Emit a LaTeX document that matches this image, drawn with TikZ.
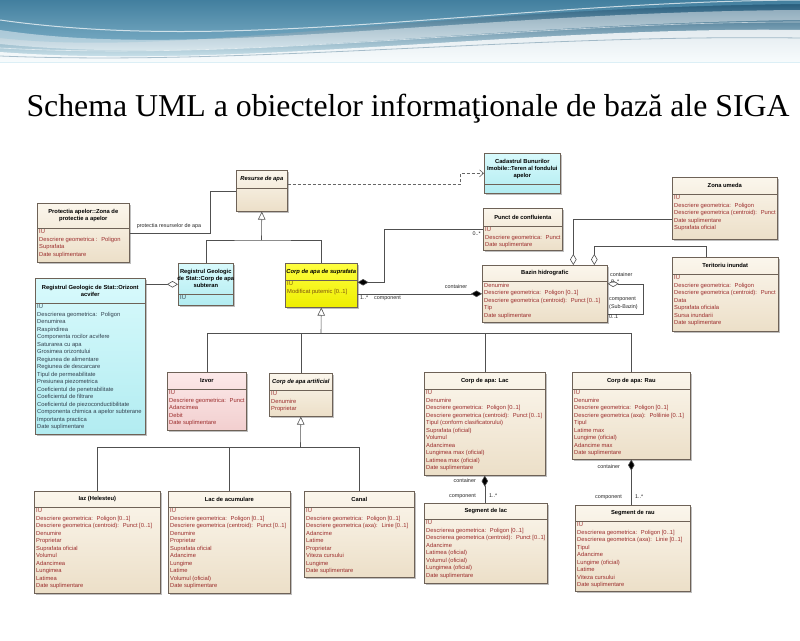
\documentclass[tikz,border=0pt]{standalone}
\usepackage{fontspec}
\setmainfont{Liberation Sans}
\newfontfamily\titlefont{Liberation Serif}
\usetikzlibrary{arrows.meta,shadows,calc}

\definecolor{attr}{HTML}{9B2C2C}
\definecolor{attrdark}{HTML}{33414F}
\definecolor{attryel}{HTML}{7A5010}
\definecolor{boxline}{HTML}{6E6257}
\definecolor{beigeA}{HTML}{FBF6EC}
\definecolor{beigeB}{HTML}{ECDFC8}
\definecolor{cyanA}{HTML}{D8FAFC}
\definecolor{cyanB}{HTML}{B2ECF1}
\definecolor{pinkA}{HTML}{FCE9E9}
\definecolor{pinkB}{HTML}{F2CFCF}
\definecolor{yelA}{HTML}{FFFF40}
\definecolor{yelB}{HTML}{EEEE00}
\definecolor{wire}{HTML}{505050}
\definecolor{hdDark}{HTML}{1D5475}
\definecolor{hdMid}{HTML}{5C9CBB}
\definecolor{hdLight}{HTML}{D9EEF5}

\def\attrcol{attr}
\tikzset{
  classbox/.style={draw=boxline, line width=0.6pt, inner sep=0pt, anchor=north west,
    drop shadow={shadow xshift=1.8pt, shadow yshift=-1.8pt, fill=black!45, opacity=0.55}},
  beigebox/.style={top color=beigeA, bottom color=beigeB, /utils/exec={\gdef\attrcol{attr}}},
  cyanbox/.style={top color=cyanA, bottom color=cyanB, /utils/exec={\gdef\attrcol{attrdark}}},
  pinkbox/.style={top color=pinkA, bottom color=pinkB, /utils/exec={\gdef\attrcol{attr}}},
  yellowbox/.style={top color=yelA, bottom color=yelB, /utils/exec={\gdef\attrcol{attryel}}},
  headtext/.style={font=\bfseries\fontsize{5.8}{7}\selectfont, align=center, inner sep=0pt},
  attrtext/.style={font=\fontsize{5.8}{7.5}\selectfont, align=left, inner sep=0pt,
    anchor=north west, text=\attrcol},
  lbl/.style={font=\fontsize{5.4}{6.4}\selectfont, inner sep=0pt, text=black!85},
  wireline/.style={draw=wire, line width=0.6pt},
  gen/.style={wireline, -{Triangle[open, length=8pt, width=7.5pt, fill=white]}},
  compo/.style={wireline, {Diamond[length=11pt, width=6.5pt, fill=black]}-},
  compoend/.style={wireline, -{Diamond[length=11pt, width=6.5pt, fill=black]}},
  aggr/.style={wireline, {Diamond[open, length=11pt, width=6.5pt, fill=white]}-},
  aggrend/.style={wireline, -{Diamond[open, length=11pt, width=6.5pt, fill=white]}},
  depend/.style={draw=black!60, line width=0.6pt, dash pattern=on 3pt off 2pt,
    -{Straight Barb[length=4pt, width=7pt]}}
}

% #1 name, #2 x, #3 y, #4 width, #5 height, #6 header height,
% #7 fill style, #8 header text, #9 attribute lines
\newcommand\umlclass[9]{%
  \node[classbox,#7,minimum width=#4pt,minimum height=#5pt] (#1) at (#2,#3) {};
  \draw[draw=boxline, line width=0.6pt] ($(#1.north west)+(0,#6)$) -- ($(#1.north east)+(0,#6)$);
  \node[headtext] (#1-head) at ($(#1.north)+(0,#6/2)$) {#8};
  \node[attrtext] (#1-attr) at ($(#1.north west)+(2,#6+1.6)$) {#9};
}

\begin{document}
\begin{tikzpicture}[x=1pt,y=-1pt]
\useasboundingbox (0,0) rectangle (800,640);
\fill[white] (0,0) rectangle (800,640);

% banner
\shade[top color=hdDark, bottom color=hdLight] (0,0) rectangle (800,62);
\fill[hdMid, opacity=0.6] (0,0) -- (0,38) .. controls (180,58) and (420,8) .. (800,4) -- (800,0) -- cycle;
\fill[white, opacity=0.45] (0,30) .. controls (200,60) and (460,12) .. (800,10) -- (800,20) .. controls (470,24) and (220,66) .. (0,44) -- cycle;
\fill[white, opacity=0.8] (0,62) -- (0,52) .. controls (240,70) and (520,26) .. (800,30) -- (800,62) -- cycle;
\draw[white, opacity=0.7, line width=1pt] (0,20) .. controls (240,54) and (500,2) .. (800,0);
\draw[white, opacity=0.6, line width=0.6pt] (0,48) .. controls (260,62) and (520,22) .. (800,22);
\draw[hdDark, opacity=0.35, line width=0.8pt] (0,56) .. controls (250,66) and (520,34) .. (800,38);

% title
\node[font=\titlefont\fontsize{31.8}{36}\selectfont, inner sep=0pt] (title) at (408,109)
  {Schema UML a obiectelor informaţionale de bază ale SIGA};

% classes
\umlclass{resurse}{236}{170}{51}{41}{18}{beigebox}{\itshape Resurse de apa}{}
\umlclass{cadastru}{484}{153}{76}{40}{31}{cyanbox}{Cadastrul Bunurilor\\Imobile::Teren al fondului\\apelor}{}
\umlclass{punct}{483}{208}{79}{42}{18}{beigebox}{Punct de confluienta}{IU\\Descriere geometrica:~ Punct\\Date suplimentare}
\umlclass{zona}{672}{177}{105}{62}{17}{beigebox}{Zona umeda}{IU\\Descriere geometrica:~ Poligon\\Descriere geometrica (centroid):~ Punct\\Date suplimentare\\Suprafata oficial}
\umlclass{teritoriu}{672}{257}{106}{74}{17}{beigebox}{Teritoriu inundat}{IU\\Descriere geometrica:~ Poligon\\Descriere geometrica (centroid):~ Punct\\Data\\Suprafata oficiala\\Sursa inundarii\\Date suplimentare}
\umlclass{protectia}{37}{203}{92}{59}{25}{beigebox}{Protectia apelor::Zona de\\protectie a apelor}{IU\\Descriere geometrica :~ Poligon\\Suprafata\\Date suplimentare}
\umlclass{orizont}{35}{278}{110}{156}{25}{cyanbox}{Registrul Geologic de Stat::Orizont\\acvifer}{IU\\Descrierea geometrica:~ Poligon\\Denumirea\\Raspindirea\\Componenta rocilor acvifere\\Saturarea cu apa\\Grosimea orizontului\\Regiunea de alimentare\\Regiunea de descarcare\\Tipul de permeabilitate\\Presiunea piezometrica\\Coeficientul de penetrabilitate\\Coeficientul de filtrare\\Coeficientul de piezoconductibilitate\\Componenta chimica a apelor subterane\\Importanta practica\\Date suplimentare}
\umlclass{subteran}{178}{263}{55}{42}{31}{cyanbox}{Registrul Geologic\\de Stat::Corp de apa\\subteran}{IU}
\umlclass{suprafata}{285}{263}{72}{44}{17}{yellowbox}{\itshape Corp de apa de suprafata}{IU\\Modificat puternic [0..1]}
\umlclass{bazin}{482}{265}{125}{57}{16}{beigebox}{Bazin hidrografic}{Denumire\\Descriere geometrica:~ Poligon [0..1]\\Descriere geometrica (centroid):~ Punct [0..1]\\Tip\\Date suplimentare}
\umlclass{izvor}{167}{372}{79}{58}{17}{pinkbox}{Izvor}{IU\\Descriere geometrica:~ Punct\\Adancimea\\Debit\\Date suplimentare}
\umlclass{artificial}{269}{373}{63}{43}{17}{beigebox}{\itshape Corp de apa artificial}{IU\\Denumire\\Proprietar}
\umlclass{lac}{424}{372}{121}{103}{17}{beigebox}{Corp de apa: Lac}{IU\\Denumire\\Descriere geometrica:~ Poligon [0..1]\\Descriere geometrica (centroid):~ Punct [0..1]\\Tipul (conform clasificatorului)\\Suprafata (oficial)\\Volumul\\Adancimea\\Lungimea max (oficial)\\Latimea max (oficial)\\Date suplimentare}
\umlclass{rau}{572}{372}{118}{87}{17}{beigebox}{Corp de apa: Rau}{IU\\Denumire\\Descriere geometrica:~ Poligon [0..1]\\Descriere geometrica (axa):~ Polilinie [0..1]\\Tipul\\Latime max\\Lungime (oficial)\\Adancime max\\Date suplimentare}
\umlclass{iaz}{34}{491}{126}{102}{16}{beigebox}{Iaz (Helesteu)}{IU\\Descriere geometrica:~ Poligon [0..1]\\Descriere geometrica (centroid):~ Punct [0..1]\\Denumire\\Proprietar\\Suprafata oficial\\Volumul\\Adancimea\\Lungimea\\Latimea\\Date suplimentare}
\umlclass{acumulare}{168}{491}{122}{102}{16}{beigebox}{Lac de acumulare}{IU\\Descriere geometrica:~ Poligon [0..1]\\Descriere geometrica (centroid):~ Punct [0..1]\\Denumire\\Proprietar\\Suprafata oficial\\Adancime\\Lungime\\Latime\\Volumul (oficial)\\Date suplimentare}
\umlclass{canal}{304}{491}{110}{86}{16}{beigebox}{Canal}{IU\\Descriere geometrica:~ Poligon [0..1]\\Descriere geometrica (axa):~ Linie [0..1]\\Adancime\\Latime\\Proprietar\\Viteza cursului\\Lungime\\Date suplimentare}
\umlclass{seglac}{424}{503}{123}{80}{16}{beigebox}{Segment de lac}{IU\\Descrierea geometrica:~ Poligon [0..1]\\Descrierea geometrica (centroid):~ Punct [0..1]\\Adancime\\Latimea (oficial)\\Volumul (oficial)\\Lungimea (oficial)\\Date suplimentare}
\umlclass{segrau}{575}{505}{115}{86}{16}{beigebox}{Segment de rau}{IU\\Descrierea geometrica:~ Poligon [0..1]\\Descrierea geometrica (axa):~ Linie [0..1]\\Tipul\\Adancime\\Lungime (oficial)\\Latime\\Viteza cursului\\Date suplimentare}

% generalization: Resurse de apa
\coordinate (g1) at (261.5,240);
\draw[wireline] (subteran.north) |- (g1) -| (suprafata.north);
\draw[gen] (g1) -- (resurse.south);

% generalization: Corp de apa de suprafata
\coordinate (g2) at (321,333);
\draw[wireline] (izvor.north) |- (rau.north |- g2) -- (rau.north);
\draw[wireline] (artificial.north |- g2) -- (artificial.north);
\draw[wireline] (lac.north |- g2) -- (lac.north);
\draw[gen] (g2) -- (suprafata.south);

% generalization: Corp de apa artificial
\coordinate (g3) at (300.5,447);
\draw[wireline] (iaz.north) |- (canal.north |- g3) -- (canal.north);
\draw[wireline] (acumulare.north |- g3) -- (acumulare.north);
\draw[gen] (g3) -- (artificial.south);

% association: protectia resurselor de apa
\draw[wireline] (protectia.east) -- ++(81,0) |- (resurse.west);
\node[lbl, anchor=south] (lprot) at (169,229) {protectia resurselor de apa};

% dependency to Cadastru
\draw[depend] ([yshift=6.5pt]resurse.east) -- ++(173,0) |- (cadastru.west);

% Punct de confluienta -- Corp de apa de suprafata
\draw[compo] ([yshift=3pt]suprafata.east) -- ++(27,0) |- (punct.west);
\node[lbl, anchor=north east] (lpct) at (481,232) {0..*};

% Corp de apa de suprafata -- Bazin hidrografic
\draw[compoend] (suprafata.east |- bazin.west) -- (bazin.west);
\node[lbl, anchor=south] (lcont1) at (456,289) {container};
\node[lbl, anchor=north west] (lmul1) at (360,296) {1..*};
\node[lbl, anchor=north west] (lcomp1) at (374,296) {component};

% Bazin hidrografic -- Zona umeda / Teritoriu inundat
\draw[aggr] ([xshift=28.5pt]bazin.north) |- ([yshift=-11pt]zona.west);
\draw[aggr] ([xshift=49.5pt]bazin.north) -- ++(0,-19) -| ([xshift=-19pt]teritoriu.north);

% Bazin hidrografic sub-basins
\draw[aggr] ([yshift=10pt]bazin.east) -- ++(36,0) |- ([yshift=-20pt]bazin.east);
\node[lbl, anchor=south west] (lcont2) at (610,277) {container};
\node[lbl, anchor=south west] (lmul2) at (611,283.5) {0..*};
\node[lbl, anchor=north west] (lcomp2) at (609,297) {component};
\node[lbl, anchor=north west] (lsub) at (609,304) {(Sub-Bazin)};
\node[lbl, anchor=north west] (lmul3) at (609,314.5) {0..1};

% Orizont acvifer -- Corp de apa subteran
\draw[aggrend] (orizont.east |- subteran.west) -- (subteran.west);

% Corp de apa: Lac -- Segment de lac
\draw[compo] (lac.south) -- (lac.south |- seglac.north);
\node[lbl, anchor=east] (lcont3) at (476,481) {container};
\node[lbl, anchor=east] (lcomp3) at (476,496) {component};
\node[lbl, anchor=west] (lmul4) at (489,496) {1..*};

% Corp de apa: Rau -- Segment de rau
\draw[compo] (rau.south) -- (rau.south |- segrau.north);
\node[lbl, anchor=east] (lcont4) at (620,467) {container};
\node[lbl, anchor=east] (lcomp4) at (622,497) {component};
\node[lbl, anchor=west] (lmul5) at (635,497) {1..*};
\end{tikzpicture}
\end{document}
